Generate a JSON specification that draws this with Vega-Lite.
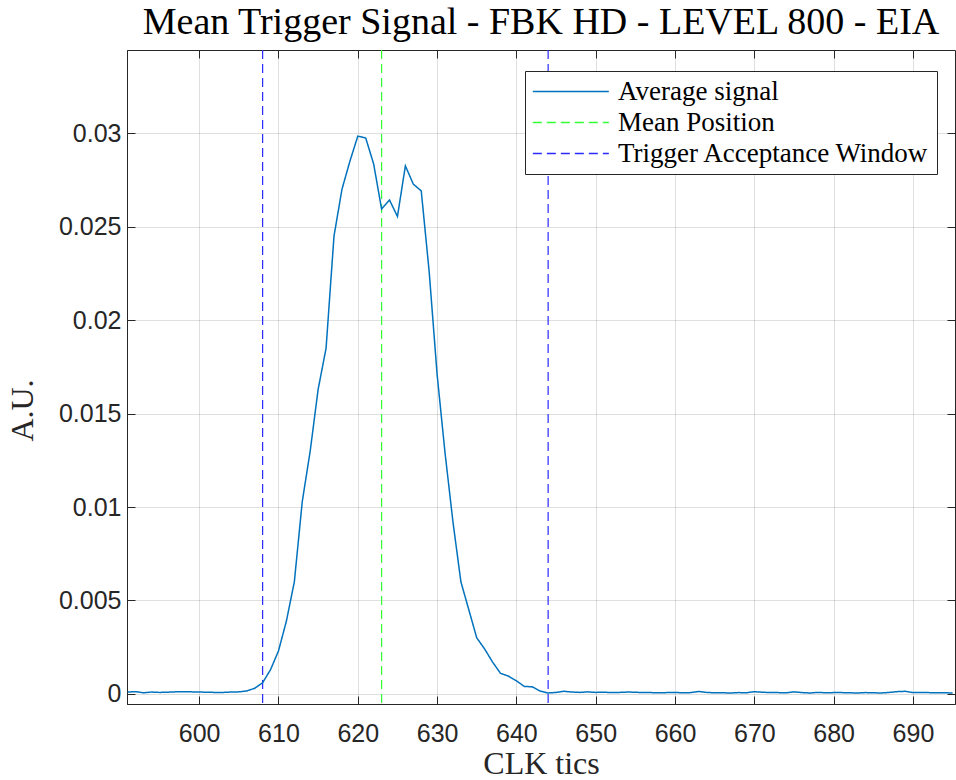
{
  "$schema": "https://vega.github.io/schema/vega-lite/v6.json",
  "width": 828,
  "height": 654,
  "autosize": {"type": "none"},
  "padding": {"left": 127, "top": 50, "right": 1, "bottom": 76},
  "background": "white",
  "title": {"text": "Mean Trigger Signal - FBK HD - LEVEL 800 - EIA", "font": "Liberation Serif", "fontSize": 38, "fontWeight": "normal", "color": "#000000", "anchor": "middle", "baseline": "alphabetic", "offset": 17, "dy": 40},
  "datasets": {
    "signal": [
      {"clk": 591, "au": 0.00010, "series": "Average signal"},
      {"clk": 592, "au": 0.00012, "series": "Average signal"},
      {"clk": 593, "au": 0.00006, "series": "Average signal"},
      {"clk": 594, "au": 0.00010, "series": "Average signal"},
      {"clk": 595, "au": 0.00008, "series": "Average signal"},
      {"clk": 596, "au": 0.00009, "series": "Average signal"},
      {"clk": 597, "au": 0.00011, "series": "Average signal"},
      {"clk": 598, "au": 0.00012, "series": "Average signal"},
      {"clk": 599, "au": 0.00011, "series": "Average signal"},
      {"clk": 600, "au": 0.00010, "series": "Average signal"},
      {"clk": 601, "au": 0.00009, "series": "Average signal"},
      {"clk": 602, "au": 0.00008, "series": "Average signal"},
      {"clk": 603, "au": 0.00008, "series": "Average signal"},
      {"clk": 604, "au": 0.00010, "series": "Average signal"},
      {"clk": 605, "au": 0.00011, "series": "Average signal"},
      {"clk": 606, "au": 0.00016, "series": "Average signal"},
      {"clk": 607, "au": 0.00030, "series": "Average signal"},
      {"clk": 608, "au": 0.00060, "series": "Average signal"},
      {"clk": 609, "au": 0.00130, "series": "Average signal"},
      {"clk": 610, "au": 0.00230, "series": "Average signal"},
      {"clk": 611, "au": 0.00390, "series": "Average signal"},
      {"clk": 612, "au": 0.00600, "series": "Average signal"},
      {"clk": 613, "au": 0.01030, "series": "Average signal"},
      {"clk": 614, "au": 0.01300, "series": "Average signal"},
      {"clk": 615, "au": 0.01630, "series": "Average signal"},
      {"clk": 616, "au": 0.01850, "series": "Average signal"},
      {"clk": 617, "au": 0.02450, "series": "Average signal"},
      {"clk": 618, "au": 0.02700, "series": "Average signal"},
      {"clk": 619, "au": 0.02850, "series": "Average signal"},
      {"clk": 620, "au": 0.02985, "series": "Average signal"},
      {"clk": 621, "au": 0.02975, "series": "Average signal"},
      {"clk": 622, "au": 0.02836, "series": "Average signal"},
      {"clk": 623, "au": 0.02595, "series": "Average signal"},
      {"clk": 624, "au": 0.02643, "series": "Average signal"},
      {"clk": 625, "au": 0.02555, "series": "Average signal"},
      {"clk": 626, "au": 0.02826, "series": "Average signal"},
      {"clk": 627, "au": 0.02728, "series": "Average signal"},
      {"clk": 628, "au": 0.02692, "series": "Average signal"},
      {"clk": 629, "au": 0.02260, "series": "Average signal"},
      {"clk": 630, "au": 0.01710, "series": "Average signal"},
      {"clk": 631, "au": 0.01290, "series": "Average signal"},
      {"clk": 632, "au": 0.00920, "series": "Average signal"},
      {"clk": 633, "au": 0.00600, "series": "Average signal"},
      {"clk": 634, "au": 0.00450, "series": "Average signal"},
      {"clk": 635, "au": 0.00300, "series": "Average signal"},
      {"clk": 636, "au": 0.00240, "series": "Average signal"},
      {"clk": 637, "au": 0.00170, "series": "Average signal"},
      {"clk": 638, "au": 0.00110, "series": "Average signal"},
      {"clk": 639, "au": 0.00095, "series": "Average signal"},
      {"clk": 640, "au": 0.00070, "series": "Average signal"},
      {"clk": 641, "au": 0.00040, "series": "Average signal"},
      {"clk": 642, "au": 0.00038, "series": "Average signal"},
      {"clk": 643, "au": 0.00015, "series": "Average signal"},
      {"clk": 644, "au": 0.00005, "series": "Average signal"},
      {"clk": 645, "au": 0.00008, "series": "Average signal"},
      {"clk": 646, "au": 0.00014, "series": "Average signal"},
      {"clk": 647, "au": 0.00010, "series": "Average signal"},
      {"clk": 648, "au": 0.00008, "series": "Average signal"},
      {"clk": 649, "au": 0.00011, "series": "Average signal"},
      {"clk": 650, "au": 0.00008, "series": "Average signal"},
      {"clk": 651, "au": 0.00009, "series": "Average signal"},
      {"clk": 652, "au": 0.00007, "series": "Average signal"},
      {"clk": 653, "au": 0.00008, "series": "Average signal"},
      {"clk": 654, "au": 0.00010, "series": "Average signal"},
      {"clk": 655, "au": 0.00009, "series": "Average signal"},
      {"clk": 656, "au": 0.00007, "series": "Average signal"},
      {"clk": 657, "au": 0.00007, "series": "Average signal"},
      {"clk": 658, "au": 0.00006, "series": "Average signal"},
      {"clk": 659, "au": 0.00007, "series": "Average signal"},
      {"clk": 660, "au": 0.00008, "series": "Average signal"},
      {"clk": 661, "au": 0.00006, "series": "Average signal"},
      {"clk": 662, "au": 0.00007, "series": "Average signal"},
      {"clk": 663, "au": 0.00013, "series": "Average signal"},
      {"clk": 664, "au": 0.00008, "series": "Average signal"},
      {"clk": 665, "au": 0.00006, "series": "Average signal"},
      {"clk": 666, "au": 0.00006, "series": "Average signal"},
      {"clk": 667, "au": 0.00005, "series": "Average signal"},
      {"clk": 668, "au": 0.00007, "series": "Average signal"},
      {"clk": 669, "au": 0.00006, "series": "Average signal"},
      {"clk": 670, "au": 0.00012, "series": "Average signal"},
      {"clk": 671, "au": 0.00009, "series": "Average signal"},
      {"clk": 672, "au": 0.00007, "series": "Average signal"},
      {"clk": 673, "au": 0.00007, "series": "Average signal"},
      {"clk": 674, "au": 0.00006, "series": "Average signal"},
      {"clk": 675, "au": 0.00011, "series": "Average signal"},
      {"clk": 676, "au": 0.00007, "series": "Average signal"},
      {"clk": 677, "au": 0.00005, "series": "Average signal"},
      {"clk": 678, "au": 0.00008, "series": "Average signal"},
      {"clk": 679, "au": 0.00006, "series": "Average signal"},
      {"clk": 680, "au": 0.00007, "series": "Average signal"},
      {"clk": 681, "au": 0.00007, "series": "Average signal"},
      {"clk": 682, "au": 0.00006, "series": "Average signal"},
      {"clk": 683, "au": 0.00005, "series": "Average signal"},
      {"clk": 684, "au": 0.00007, "series": "Average signal"},
      {"clk": 685, "au": 0.00006, "series": "Average signal"},
      {"clk": 686, "au": 0.00005, "series": "Average signal"},
      {"clk": 687, "au": 0.00008, "series": "Average signal"},
      {"clk": 688, "au": 0.00012, "series": "Average signal"},
      {"clk": 689, "au": 0.00014, "series": "Average signal"},
      {"clk": 690, "au": 0.00007, "series": "Average signal"},
      {"clk": 691, "au": 0.00008, "series": "Average signal"},
      {"clk": 692, "au": 0.00007, "series": "Average signal"},
      {"clk": 693, "au": 0.00006, "series": "Average signal"},
      {"clk": 694, "au": 0.00006, "series": "Average signal"},
      {"clk": 695, "au": 0.00005, "series": "Average signal"}
    ],
    "markers": [
      {"clk": 623, "series": "Mean Position"},
      {"clk": 608, "series": "Trigger Acceptance Window"},
      {"clk": 644, "series": "Trigger Acceptance Window"}
    ]
  },
  "layer": [
    {
      "data": {"name": "markers"},
      "mark": {"type": "rule", "strokeWidth": 1.2},
      "encoding": {
        "x": {"field": "clk", "type": "quantitative", "scale": {"domain": [590.9, 695.3], "nice": false, "zero": false}, "axis": null},
        "color": {"field": "series", "type": "nominal", "scale": {"domain": ["Average signal", "Mean Position", "Trigger Acceptance Window"], "range": ["#0072BD", "#33ff33", "#2a2aff"]}, "legend": {"orient": "none", "legendX": 398, "legendY": 21, "title": null}},
        "strokeDash": {"field": "series", "type": "nominal", "scale": {"domain": ["Average signal", "Mean Position", "Trigger Acceptance Window"], "range": [[1, 0], [9, 5], [9, 5]]}, "legend": {"orient": "none", "legendX": 398, "legendY": 21, "title": null}}
      }
    },
    {
      "data": {"name": "signal"},
      "mark": {"type": "line", "strokeWidth": 1.5},
      "encoding": {
        "x": {"field": "clk", "type": "quantitative", "scale": {"domain": [590.9, 695.3], "nice": false, "zero": false},
          "axis": {"orient": "bottom", "values": [600, 610, 620, 630, 640, 650, 660, 670, 680, 690], "title": "CLK tics", "grid": true, "tickSize": -8, "labelPadding": 25, "titlePadding": 2}},
        "y": {"field": "au", "type": "quantitative", "scale": {"domain": [-0.00054, 0.03446], "nice": false, "zero": false},
          "axis": {"orient": "left", "values": [0, 0.005, 0.01, 0.015, 0.02, 0.025, 0.03], "format": ".3~f", "title": "A.U.", "grid": true, "tickSize": -8, "labelPadding": 14, "titlePadding": 19, "titleY": 360}},
        "color": {"field": "series", "type": "nominal"},
        "strokeDash": {"field": "series", "type": "nominal"}
      }
    },
    {
      "data": {"name": "signal"},
      "mark": {"type": "line", "opacity": 0},
      "encoding": {
        "x": {"field": "clk", "type": "quantitative", "axis": {"orient": "top", "values": [600, 610, 620, 630, 640, 650, 660, 670, 680, 690], "labels": false, "grid": false, "title": null, "tickSize": -8, "domain": false}},
        "y": {"field": "au", "type": "quantitative", "axis": {"orient": "right", "values": [0, 0.005, 0.01, 0.015, 0.02, 0.025, 0.03], "labels": false, "grid": false, "title": null, "tickSize": -8, "domain": false}}
      }
    }
  ],
  "resolve": {"axis": {"x": "independent", "y": "independent"}},
  "config": {
    "view": {"stroke": "#262626", "strokeWidth": 1},
    "axis": {
      "domainColor": "#262626", "domainWidth": 1,
      "tickColor": "#262626", "tickWidth": 1,
      "gridColor": "#262626", "gridOpacity": 0.15, "gridWidth": 1,
      "labelFont": "Liberation Sans", "labelFontSize": 25, "labelColor": "#262626",
      "titleFont": "Liberation Serif", "titleFontSize": 32, "titleFontWeight": "normal", "titleColor": "#262626"
    },
    "legend": {
      "strokeColor": "#262626", "fillColor": "white", "padding": 7, "cornerRadius": 0,
      "labelFont": "Liberation Serif", "labelFontSize": 27, "labelColor": "#000000", "labelLimit": 500,
      "symbolType": "M-1,0H5", "symbolSize": 642, "symbolStrokeWidth": 1.3, "labelOffset": 59, "rowPadding": 3
    }
  }
}
